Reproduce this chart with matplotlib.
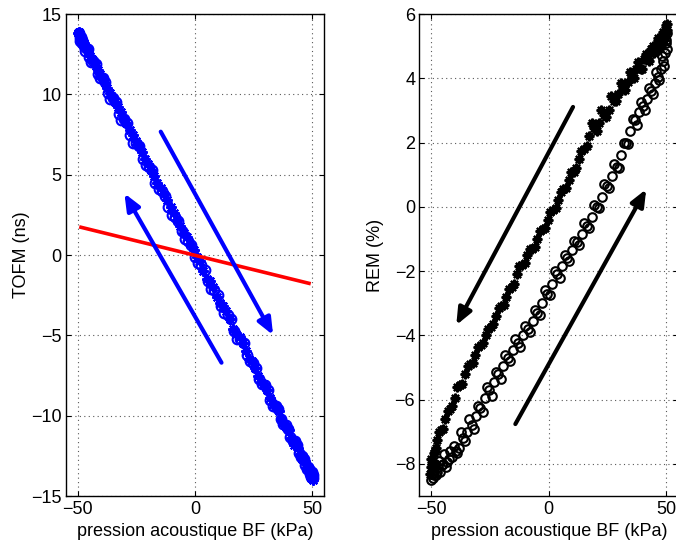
import numpy as np
import matplotlib.pyplot as plt

# -----------------------------
# data
# -----------------------------
# left panel: TOFM (ns) vs low-frequency pressure (kPa), two cycles
p_tofm_up = [-49.6, -49.2, -48.8, -48.3, -47.5, -46.4, -45.0, -43.3, -41.5, -39.4,
             -37.2, -35.0, -32.6, -30.1, -27.6, -25.0, -22.3, -19.6, -16.9, -14.1,
             -11.3, -8.5, -5.7, -2.9, -0.1, 2.7, 5.5, 8.3, 11.1, 13.9,
             16.6, 19.3, 22.0, 24.6, 27.2, 29.7, 32.1, 34.4, 36.6, 38.7,
             40.7, 42.5, 44.2, 45.7, 47.0, 48.1, 49.0, 49.7, 50.2, 50.5]
tofm_up = [13.8, 13.5, 13.6, 13.2, 13.0, 12.9, 12.3, 12.1, 11.3, 11.0,
           10.1, 9.8, 8.8, 8.5, 7.5, 7.0, 6.0, 5.5, 4.5, 4.0,
           3.0, 2.4, 1.5, 0.9, -0.1, -0.6, -1.6, -2.2, -3.2, -3.7,
           -4.7, -5.2, -6.2, -6.7, -7.7, -8.1, -9.0, -9.4, -10.2, -10.6,
           -11.3, -11.6, -12.3, -12.5, -13.1, -13.2, -13.6, -13.5, -13.9, -13.7]

p_tofm_up2 = [-49.0, -48.0, -46.9, -45.7, -44.2, -42.4, -40.5, -38.3, -36.1, -33.8,
              -31.4, -28.9, -26.3, -23.7, -21.0, -18.3, -15.5, -12.7, -9.9, -7.1,
              -4.3, -1.5, 1.3, 4.1, 6.9, 9.7, 12.5, 15.3, 18.0, 20.7,
              23.3, 25.9, 28.5, 31.0, 33.3, 35.5, 37.7, 39.7, 41.6, 43.4,
              45.0, 46.4, 47.6, 48.6, 49.4, 50.0]
tofm_up2 = [13.3, 13.4, 12.7, 12.8, 12.0, 11.9, 11.0, 10.8, 9.7, 9.5,
            8.4, 8.2, 7.0, 6.8, 5.6, 5.3, 4.1, 3.7, 2.5, 2.1,
            1.0, 0.6, -0.5, -0.9, -2.1, -2.5, -3.6, -4.0, -5.2, -5.5,
            -6.6, -7.0, -8.0, -8.4, -9.4, -9.6, -10.5, -10.8, -11.6, -11.8,
            -12.6, -12.7, -13.3, -13.3, -13.8, -13.6]

p_tofm_down = [50.3, 49.9, 49.3, 48.5, 47.5, 46.2, 44.7, 43.0, 41.1, 39.0,
               36.8, 34.5, 32.1, 29.6, 27.0, 24.4, 21.7, 19.0, 16.2, 13.4,
               10.6, 7.8, 5.0, 2.2, -0.6, -3.4, -6.2, -9.0, -11.8, -14.6,
               -17.3, -20.0, -22.7, -25.3, -27.9, -30.4, -32.8, -35.1, -37.3, -39.4,
               -41.3, -43.1, -44.7, -46.1, -47.3, -48.3, -49.0, -49.5]
tofm_down = [-13.8, -13.5, -13.7, -13.3, -13.0, -12.6, -12.4, -11.7, -11.4, -10.7,
             -10.2, -9.4, -8.9, -8.0, -7.5, -6.6, -6.0, -5.1, -4.6, -3.5,
             -3.0, -2.0, -1.5, -0.4, 0.3, 1.1, 1.8, 2.6, 3.4, 4.2,
             4.9, 5.7, 6.4, 7.1, 7.8, 8.5, 9.2, 9.8, 10.4, 11.0,
             11.5, 12.0, 12.4, 12.8, 13.2, 13.4, 13.6, 13.9]

p_tofm_down2 = [50.5, 50.1, 49.6, 48.9, 48.0, 46.9, 45.5, 43.9, 42.1, 40.1,
                37.9, 35.7, 33.3, 30.9, 28.3, 25.7, 23.1, 20.4, 17.6, 14.8,
                12.0, 9.2, 6.4, 3.6, 0.8, -2.0, -4.8, -7.6, -10.4, -13.2,
                -16.0, -18.7, -21.4, -24.0, -26.6, -29.2, -31.6, -34.0, -36.2, -38.4,
                -40.4, -42.2, -43.9, -45.4, -46.7, -47.8, -48.7, -49.3, -49.8]
tofm_down2 = [-14.0, -13.6, -13.9, -13.4, -13.4, -12.8, -12.7, -12.0, -11.8, -10.9,
              -10.6, -9.7, -9.3, -8.4, -7.9, -7.0, -6.5, -5.5, -4.9, -4.0,
              -3.2, -2.6, -1.6, -1.0, -0.1, 0.7, 1.4, 2.2, 3.0, 3.8,
              4.5, 5.3, 6.0, 6.8, 7.5, 8.2, 8.9, 9.5, 10.1, 10.7,
              11.3, 11.8, 12.2, 12.7, 13.0, 13.3, 13.5, 13.7, 13.8]

# red linear fit on the left panel
fit_p = [-48.6, 48.6]
fit_tofm = [1.73, -1.76]

# right panel: REM (%) vs pressure, rising branch (o) and falling branch (*)
p_rem_up = [-50.0, -49.6, -49.2, -48.7, -48.0, -47.1, -46.1, -45.0, -43.8, -42.5,
            -41.1, -39.6, -38.0, -36.3, -34.6, -32.8, -31.0, -29.1, -27.2, -25.3,
            -23.4, -21.4, -19.4, -17.4, -15.3, -13.2, -11.1, -9.0, -6.9, -4.8,
            -2.7, -0.6, 1.5, 3.6, 5.7, 7.8, 9.9, 12.0, 14.1, 16.2,
            18.3, 20.4, 22.5, 24.6, 26.7, 28.8, 30.8, 32.8, 34.7, 36.6,
            38.4, 40.2, 41.9, 43.5, 45.0, 46.3, 47.5, 48.5, 49.3, 49.9,
            50.3]
rem_up = [-8.5, -8.3, -8.45, -8.2, -8.35, -8.1, -8.25, -8.0, -8.1, -7.85,
          -7.8, -7.6, -7.5, -7.2, -7.0, -6.8, -6.5, -6.25, -5.95, -5.7,
          -5.45, -5.2, -4.95, -4.7, -4.45, -4.25, -4.0, -3.8, -3.55, -3.3,
          -3.0, -2.7, -2.4, -2.1, -1.85, -1.6, -1.35, -1.1, -0.85, -0.6,
          -0.3, 0.0, 0.3, 0.65, 0.95, 1.25, 1.6, 2.0, 2.35, 2.7,
          2.95, 3.15, 3.35, 3.6, 3.85, 4.05, 4.3, 4.55, 4.8, 5.1,
          5.4]

p_rem_up2 = [-49.8, -49.4, -48.9, -48.3, -47.5, -46.6, -45.5, -44.4, -43.1, -41.8,
             -40.3, -38.8, -37.1, -35.4, -33.7, -31.9, -30.0, -28.1, -26.2, -24.3,
             -22.4, -20.4, -18.4, -16.3, -14.2, -12.1, -10.0, -7.9, -5.8, -3.7,
             -1.6, 0.5, 2.5, 4.6, 6.7, 8.8, 10.9, 13.0, 15.1, 17.2,
             19.3, 21.4, 23.5, 25.6, 27.7, 29.8, 31.8, 33.7, 35.6, 37.5,
             39.3, 41.0, 42.7, 44.2, 45.6, 46.9, 48.0, 48.9, 49.6, 50.1]
rem_up2 = [-8.3, -8.1, -8.35, -8.0, -8.25, -7.9, -8.05, -7.7, -7.95, -7.6,
           -7.45, -7.65, -7.0, -7.3, -6.6, -6.9, -6.2, -6.4, -5.6, -5.9,
           -5.15, -5.35, -4.6, -4.8, -4.1, -4.35, -3.7, -3.9, -3.2, -3.35,
           -2.6, -2.75, -2.0, -2.2, -1.5, -1.7, -1.05, -1.2, -0.5, -0.65,
           0.05, -0.05, 0.7, 0.6, 1.35, 1.2, 2.0, 1.95, 2.75, 2.55,
           3.25, 3.0, 3.7, 3.5, 4.2, 3.95, 4.7, 4.4, 5.2, 4.9]

p_rem_down = [50.4, 50.0, 49.5, 48.8, 48.0, 47.0, 46.0, 44.8, 43.5, 42.0,
              40.5, 39.0, 37.2, 35.4, 33.5, 31.6, 29.6, 27.6, 25.6, 23.5,
              21.4, 19.3, 17.2, 15.0, 12.8, 10.6, 8.4, 6.2, 4.0, 1.8,
              -0.4, -2.6, -4.8, -7.0, -9.2, -11.4, -13.6, -15.8, -18.0, -20.2,
              -22.4, -24.6, -26.8, -29.0, -31.2, -33.4, -35.6, -37.8, -40.0, -42.0,
              -44.0, -45.8, -47.3, -48.5, -49.4, -50.0, -50.3]
rem_down = [5.7, 5.4, 5.5, 5.2, 5.3, 5.0, 5.1, 4.8, 4.9, 4.6,
            4.6, 4.3, 4.3, 4.05, 3.9, 3.7, 3.5, 3.3, 3.0, 2.85,
            2.6, 2.45, 2.2, 1.8, 1.5, 1.1, 0.85, 0.55, 0.2, -0.1,
            -0.4, -0.7, -1.0, -1.3, -1.5, -1.8, -2.1, -2.5, -2.8, -3.1,
            -3.4, -3.75, -4.0, -4.3, -4.6, -4.9, -5.2, -5.55, -5.95, -6.3,
            -6.6, -6.95, -7.25, -7.6, -7.9, -8.1, -8.3]

p_rem_down2 = [50.2, 49.8, 49.2, 48.4, 47.5, 46.5, 45.4, 44.1, 42.7, 41.2,
               39.7, 38.1, 36.3, 34.4, 32.5, 30.6, 28.6, 26.6, 24.5, 22.4,
               20.3, 18.2, 16.1, 13.9, 11.7, 9.5, 7.3, 5.1, 2.9, 0.7,
               -1.5, -3.7, -5.9, -8.1, -10.3, -12.5, -14.7, -16.9, -19.1, -21.3,
               -23.5, -25.7, -27.9, -30.1, -32.3, -34.5, -36.7, -38.9, -41.0, -43.0,
               -44.9, -46.6, -47.9, -48.9, -49.7, -50.2]
rem_down2 = [5.5, 5.65, 5.3, 5.45, 5.05, 5.25, 4.85, 5.0, 4.55, 4.75,
             4.3, 4.5, 4.0, 4.2, 3.65, 3.85, 3.3, 3.45, 2.8, 3.0,
             2.35, 2.6, 1.9, 1.75, 1.2, 1.1, 0.6, 0.45, -0.05, -0.15,
             -0.65, -0.75, -1.25, -1.3, -1.75, -1.85, -2.4, -2.55, -3.05, -3.15,
             -3.65, -3.8, -4.25, -4.35, -4.85, -4.95, -5.5, -5.6, -6.2, -6.35,
             -6.9, -7.0, -7.5, -7.65, -8.0, -7.85]

# arrows (tail -> tip), in data units
arrows_left = [((-14.6, 7.68), (33.3, -4.98)), ((11.3, -6.7), (-30.1, 3.84))]
arrows_right = [((10.3, 3.11), (-39.3, -3.68)), ((-14.2, -6.76), (41.4, 0.55))]

# -----------------------------
# style
# -----------------------------
plt.rcParams["font.family"] = ["Liberation Sans", "DejaVu Sans"]
plt.rcParams["font.size"] = 13

STAR = (8, 2, 0)  # matlab-like '*' marker


def matlab_axes(ax):
    ax.grid(True, color="0.35", linestyle=(0, (1, 3)), linewidth=0.8)
    ax.set_axisbelow(True)
    ax.tick_params(direction="in", top=True, right=True, length=3.6,
                   width=0.8, labelsize=13)
    ax.tick_params(axis="x", pad=3.5)
    ax.tick_params(axis="y", pad=3)
    for s in ax.spines.values():
        s.set_linewidth(1.0)
    ax.xaxis.label.set_verticalalignment("center")
    ax.yaxis.label.set_verticalalignment("center")
    ax.xaxis.set_label_coords(0.5, -0.074)
    ax.yaxis.set_label_coords(-0.171, 0.5)


def draw_arrow(ax, tail, tip, color):
    ax.annotate("", xy=tip, xytext=tail,
                arrowprops=dict(arrowstyle="-|>,head_length=1.0,head_width=0.42",
                                lw=3, color=color, shrinkA=0, shrinkB=0,
                                mutation_scale=10))


fig = plt.figure(figsize=(6.76, 5.47), dpi=100)
ax1 = fig.add_axes([0.0976, 0.0932, 0.3817, 0.881])
ax2 = fig.add_axes([0.6203, 0.0932, 0.3830, 0.881])

# left panel
for px, py in [(p_tofm_up, tofm_up), (p_tofm_up2, tofm_up2)]:
    ax1.plot(px, py, "o", color="blue", ms=7, mew=1.5, mfc="none")
for px, py in [(p_tofm_down, tofm_down), (p_tofm_down2, tofm_down2)]:
    ax1.plot(px, py, ls="none", marker=STAR, color="blue", ms=7.5, mew=1.5)
ax1.plot(fit_p, fit_tofm, "-", color="red", lw=2.6)
for tail, tip in arrows_left:
    draw_arrow(ax1, tail, tip, "blue")
ax1.set_xlim(-55, 55)
ax1.set_ylim(-15, 15)
ax1.set_xticks([-50, 0, 50])
ax1.set_yticks(np.arange(-15, 16, 5))
ax1.set_xlabel("pression acoustique BF (kPa)")
ax1.set_ylabel("TOFM (ns)")
matlab_axes(ax1)

# right panel
for px, py in [(p_rem_up, rem_up), (p_rem_up2, rem_up2)]:
    ax2.plot(px, py, "o", color="black", ms=6.2, mew=1.5, mfc="none")
for px, py in [(p_rem_down, rem_down), (p_rem_down2, rem_down2)]:
    ax2.plot(px, py, ls="none", marker=STAR, color="black", ms=7, mew=1.6)
for tail, tip in arrows_right:
    draw_arrow(ax2, tail, tip, "black")
ax2.set_xlim(-55, 55)
ax2.set_ylim(-9, 6)
ax2.set_xticks([-50, 0, 50])
ax2.set_yticks(np.arange(-8, 7, 2))
ax2.set_xlabel("pression acoustique BF (kPa)")
ax2.set_ylabel("REM (%)")
matlab_axes(ax2)

fig.savefig("out.png", dpi=100)
